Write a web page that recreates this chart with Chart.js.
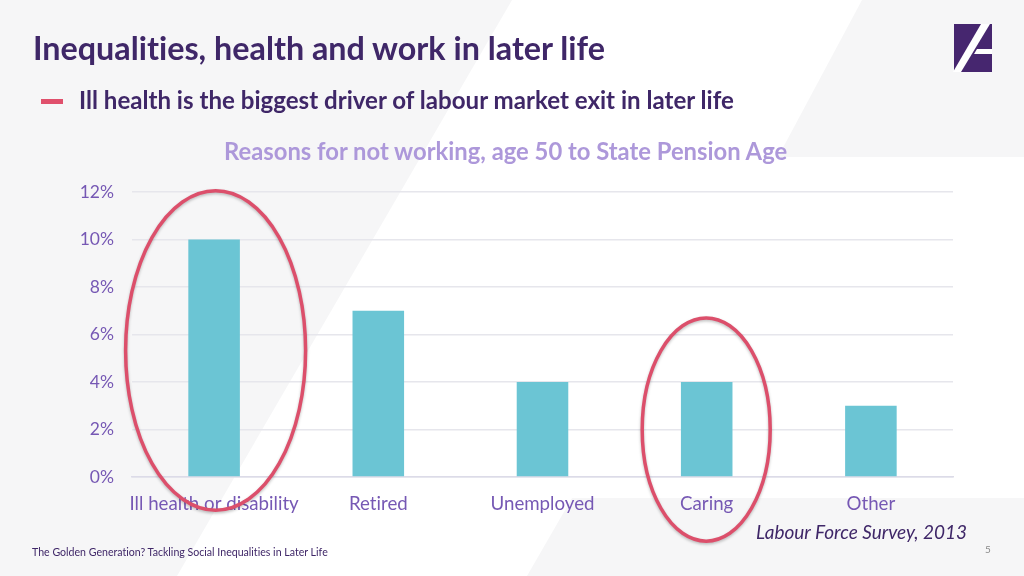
<!DOCTYPE html>
<html>
<head>
<meta charset="utf-8">
<script src="https://cdn.jsdelivr.net/npm/chart.js@4"></script>
<style>
html,body{margin:0;padding:0;background:#fff;overflow:hidden}
#slide{position:relative;width:1024px;height:576px;font-family:Lato,sans-serif;font-variant-ligatures:none}
#bg{position:absolute;left:0;top:0}
canvas{position:absolute;left:0;top:0}
.t{position:absolute;white-space:nowrap}
</style>
</head>
<body>
<div id="slide">
<svg id="bg" width="1024" height="576">
  <polygon points="0,0 512,0 177,576 0,576" fill="#f6f6f7"/>
  <polygon points="862,0 1024,0 1024,157 778,157" fill="#f6f6f7"/>
  <polygon points="572,498 1024,498 1024,576 527,576" fill="#f6f6f7"/>
  <rect x="41" y="99" width="22" height="5" fill="#e0506c"/>
  <polygon points="954,24 992,24 992,72 954,72" fill="#46266f"/>
  <polygon points="981,24 990,24 961,72 953,72" fill="#fff"/>
  <polygon points="977,49 992,49 992,54 974,54" fill="#fff"/>
</svg>
<canvas id="reasonsChart" width="1024" height="576"></canvas>
<div class="t" style="left:33px;top:28px;font-size:32.3px;font-weight:700;color:#3f2768">Inequalities, health and work in later life</div>
<div class="t" style="left:79px;top:85px;font-size:24.1px;font-weight:700;color:#3f2768">Ill health is the biggest driver of labour market exit in later life</div>
<div class="t" style="left:224px;top:137px;font-size:23.8px;font-weight:700;color:#ad98da">Reasons for not working, age 50 to State Pension Age</div>
<div class="t" style="left:756px;top:520px;font-size:19px;font-style:italic;color:#3f2768">Labour Force Survey, 2013</div>
<div class="t" style="left:32px;top:546px;font-size:10.6px;color:#3f2768">The Golden Generation? Tackling Social Inequalities in Later Life</div>
<div class="t" style="left:985px;top:543px;font-size:10px;color:#8a8a8a">5</div>
</div>
<script>
const categories = ['Ill health or disability', 'Retired', 'Unemployed', 'Caring', 'Other'];
const shares = [10, 7, 4, 4, 3];
const yTicks = [0, 2, 4, 6, 8, 10, 12];
const circled = ['Ill health or disability', 'Caring'];

const tickColour = '#7658b4';

// red rings around the two bars, placed from the chart's own scales
const ringPlugin = {
    id: 'rings',
    afterDraw(chart) {
        const ctx = chart.ctx, x = chart.scales.x, y = chart.scales.y;
        const rings = [
            {offset: 1.5, top: 12.05, bottom: -1.4, rx: 90},
            {offset: -0.5, top: 6.7, bottom: -2.7, rx: 64}
        ];
        ctx.save();
        ctx.strokeStyle = '#dc4f6b';
        ctx.lineWidth = 3.5;
        ctx.shadowColor = 'rgba(0,0,0,0.25)';
        ctx.shadowBlur = 3;
        ctx.shadowOffsetY = 1.5;
        circled.forEach(function(name, i){
            const r = rings[i];
            const top = y.getPixelForValue(r.top), bottom = y.getPixelForValue(r.bottom);
            ctx.beginPath();
            ctx.ellipse(x.getPixelForValue(categories.indexOf(name)) + r.offset, (top + bottom) / 2, r.rx, (bottom - top) / 2, 0, 0, Math.PI * 2);
            ctx.stroke();
        });
        ctx.restore();
    }
};

new Chart(document.getElementById('reasonsChart').getContext('2d'), {
    type: 'bar',
    data: {labels: categories, datasets: [{label: 'Reasons', data: shares, backgroundColor: '#6bc5d4', barPercentage: 0.314, categoryPercentage: 1}]},
    options: {
        responsive: false,
        animation: false,
        layout: {padding: {top: 192, right: 71, left: 0, bottom: 0}},
        plugins: {legend: {display: false}, tooltip: {enabled: false}},
        scales: {
            x: {
                grid: {display: false},
                border: {color: '#dcdbe8', width: 1.5},
                ticks: {color: tickColour, font: {family: 'Lato', size: 18.7}, padding: 8, maxRotation: 0, autoSkip: false},
                afterFit(s){ s.height = 99; }
            },
            y: {
                min: 0, max: 12,
                afterBuildTicks(s){ s.ticks = yTicks.map(function(v){ return {value: v}; }); },
                grid: {color: '#e6e6ec', lineWidth: 1.5, drawTicks: false},
                border: {display: false},
                ticks: {color: tickColour, font: {family: 'Lato', size: 17.5}, padding: 18, callback: function(v){ return v + '%'; }},
                afterFit(s){ s.width = 132; }
            }
        }
    },
    plugins: [ringPlugin]
});
</script>
</body>
</html>
